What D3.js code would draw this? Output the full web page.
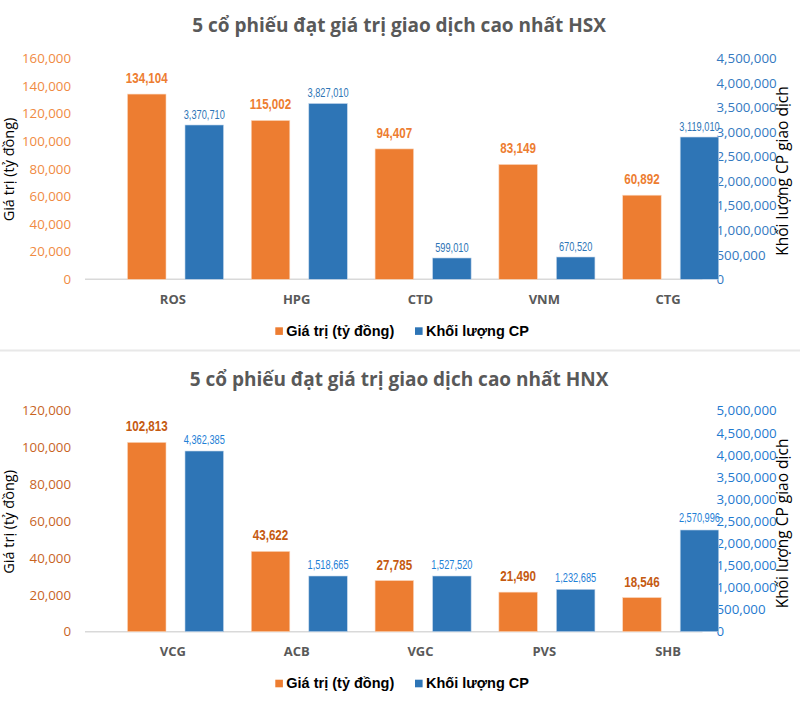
<!DOCTYPE html>
<html><head><meta charset="utf-8">
<script src="https://cdn.jsdelivr.net/npm/d3@7"></script>
<style>
html,body{margin:0;padding:0;background:#fff;}
svg{display:block;}
</style></head>
<body>
<script>
// ---------- DATA ----------
const titleHSX = "5 cổ phiếu đạt giá trị giao dịch cao nhất HSX";
const categoriesHSX = ["ROS", "HPG", "CTD", "VNM", "CTG"];
const valueHSX = [134104, 115002, 94407, 83149, 60892];
// bar heights as drawn on the right axis
const volumeHSX = [3142000, 3580000, 434000, 454000, 2897000];
const volumeLabelsHSX = ["3,370,710", "3,827,010", "599,010", "670,520", "3,119,010"];
const leftTicksHSX = [0, 20000, 40000, 60000, 80000, 100000, 120000, 140000, 160000];
const rightTicksHSX = [0, 500000, 1000000, 1500000, 2000000, 2500000, 3000000, 3500000, 4000000, 4500000];

const titleHNX = "5 cổ phiếu đạt giá trị giao dịch cao nhất HNX";
const categoriesHNX = ["VCG", "ACB", "VGC", "PVS", "SHB"];
const valueHNX = [102813, 43622, 27785, 21490, 18546];
const volumeHNX = [4088000, 1260000, 1260000, 959000, 2301000];
const volumeLabelsHNX = ["4,362,385", "1,518,665", "1,527,520", "1,232,685", "2,570,996"];
const leftTicksHNX = [0, 20000, 40000, 60000, 80000, 100000, 120000];
const rightTicksHNX = [0, 500000, 1000000, 1500000, 2000000, 2500000, 3000000, 3500000, 4000000, 4500000, 5000000];

const seriesNames = ["Giá trị (tỷ đồng)", "Khối lượng CP"];
const leftAxisTitle = "Giá trị (tỷ đồng)";
const rightAxisTitle = "Khối lượng CP giao dịch";

// ---------- DRAW ----------
const W = 800, H = 728;
const svg = d3.select("body").append("svg").attr("width", W).attr("height", H);
const fmt = d3.format(",");

const ORANGE = "#ED7D31", BLUE = "#2E75B6";
const arial = "'Liberation Sans',Arial,sans-serif";
const sans = "'Open Sans','Noto Sans',sans-serif";

function drawChart(oy, titleOy, cfg) {
  const g = svg.append("g").attr("transform", `translate(0,${oy})`);
  const y0 = 279.3, yTop = 58.3;
  const yL = d3.scaleLinear().domain([0, cfg.leftMax]).range([y0, yTop]);
  const yR = d3.scaleLinear().domain([0, cfg.rightMax]).range([y0, yTop]);
  const x = d3.scaleBand().domain(cfg.cats).range([111, 730]).paddingInner(0).paddingOuter(0);
  const bw = x.bandwidth();
  const xs = d3.scaleBand().domain(["v", "q"]).range([bw * 0.133, bw * 0.909]).paddingInner(0.33);

  // title
  svg.append("text").attr("x", 399).attr("y", titleOy)
    .attr("text-anchor", "middle").attr("font-family", sans).attr("font-weight", 700)
    .attr("font-size", 19).attr("fill", "#595959").text(cfg.title);

  // baseline
  g.append("line").attr("x1", 85).attr("x2", 702.5).attr("y1", y0).attr("y2", y0)
    .attr("stroke", "#d9d9d9").attr("stroke-width", 1.5);

  // left axis
  const la = g.append("g").attr("transform", "translate(71,0)")
    .call(d3.axisLeft(yL).tickValues(cfg.leftTicks).tickSize(0).tickPadding(0).tickFormat(fmt));
  la.select(".domain").remove();
  la.selectAll("text").attr("font-family", sans).attr("font-size", 13.3).attr("fill", cfg.leftTickColor);

  // right axis
  const ra = g.append("g").attr("transform", "translate(716.5,0)")
    .call(d3.axisRight(yR).tickValues(cfg.rightTicks).tickSize(0).tickPadding(0).tickFormat(fmt));
  ra.select(".domain").remove();
  ra.selectAll("text").attr("font-family", sans).attr("font-size", 13.3).attr("fill", cfg.rightTickColor);

  // axis titles
  g.append("text").attr("transform", `translate(14.3,${169.5}) rotate(-90)`)
    .attr("text-anchor", "middle").attr("font-family", sans).attr("font-size", 14.5)
    .attr("fill", "#000").text(leftAxisTitle);
  g.append("text").attr("transform", `translate(787.5,${171}) rotate(-90)`)
    .attr("text-anchor", "middle").attr("font-family", sans).attr("font-size", 15.5)
    .attr("fill", "#000").text(rightAxisTitle);

  const groups = g.selectAll("g.grp").data(cfg.cats).join("g")
    .attr("class", "grp").attr("transform", d => `translate(${x(d)},0)`);

  // orange bars
  groups.append("rect")
    .attr("x", xs("v")).attr("width", xs.bandwidth())
    .attr("y", (d, i) => yL(cfg.values[i])).attr("height", (d, i) => y0 - yL(cfg.values[i]))
    .attr("fill", ORANGE).attr("stroke", "#fbd9c0").attr("stroke-width", 0.6);
  // blue bars
  groups.append("rect")
    .attr("x", xs("q")).attr("width", xs.bandwidth())
    .attr("y", (d, i) => yR(cfg.volumes[i])).attr("height", (d, i) => y0 - yR(cfg.volumes[i]))
    .attr("fill", BLUE).attr("stroke", "#c5d8ec").attr("stroke-width", 0.6);

  // data labels (condensed)
  groups.append("g")
    .attr("transform", (d, i) => `translate(${xs("v") + xs.bandwidth() / 2},${yL(cfg.values[i]) - 11}) scale(0.83,1)`)
    .append("text")
    .attr("text-anchor", "middle").attr("font-family", arial)
    .attr("font-weight", 700).attr("font-size", 14).attr("fill", cfg.valueLabelColor)
    .text((d, i) => fmt(cfg.values[i]));
  groups.append("g")
    .attr("transform", (d, i) => `translate(${xs("q") + xs.bandwidth() / 2},${yR(cfg.volumes[i]) - cfg.volLabelGap}) scale(0.74,1)`)
    .append("text")
    .attr("text-anchor", "middle").attr("font-family", arial)
    .attr("font-size", 12.5).attr("fill", cfg.volumeLabelColor)
    .text((d, i) => cfg.volumeLabels[i]);

  // category labels
  groups.append("text")
    .attr("x", bw / 2).attr("y", 303.8)
    .attr("text-anchor", "middle").attr("font-family", sans).attr("font-weight", 700)
    .attr("font-size", 13).attr("fill", "#595959").text(d => d);

  // legend
  const leg = g.append("g");
  const legItems = [{name: seriesNames[0], c: ORANGE, x: 275.3}, {name: seriesNames[1], c: BLUE, x: 415}];
  legItems.forEach(it => {
    leg.append("rect").attr("x", it.x).attr("y", 327.3).attr("width", 7.6).attr("height", 7.6).attr("fill", it.c);
    leg.append("text").attr("x", it.x + 11).attr("y", 335.8)
      .attr("font-family", arial).attr("font-weight", 700)
      .attr("font-size", 14.5).attr("fill", "#000").text(it.name);
  });
}

drawChart(0, 32.3, {
  title: titleHSX, cats: categoriesHSX, values: valueHSX, volumes: volumeHSX,
  volumeLabels: volumeLabelsHSX, leftTicks: leftTicksHSX, rightTicks: rightTicksHSX,
  leftMax: 160000, rightMax: 4500000,
  leftTickColor: "#F08A42", rightTickColor: "#3479BF",
  valueLabelColor: "#ED7D31", volumeLabelColor: "#2E75B6", volLabelGap: 6
});

// separator
svg.append("rect").attr("x", 0).attr("y", 349.5).attr("width", W).attr("height", 2).attr("fill", "#e8e8e8");

drawChart(352.4, 385.7, {
  title: titleHNX, cats: categoriesHNX, values: valueHNX, volumes: volumeHNX,
  volumeLabels: volumeLabelsHNX, leftTicks: leftTicksHNX, rightTicks: rightTicksHNX,
  leftMax: 120000, rightMax: 5000000,
  leftTickColor: "#C8641F", rightTickColor: "#1F7ACF",
  valueLabelColor: "#C55A11", volumeLabelColor: "#1E80D6", volLabelGap: 7.5
});
</script>
</body></html>
